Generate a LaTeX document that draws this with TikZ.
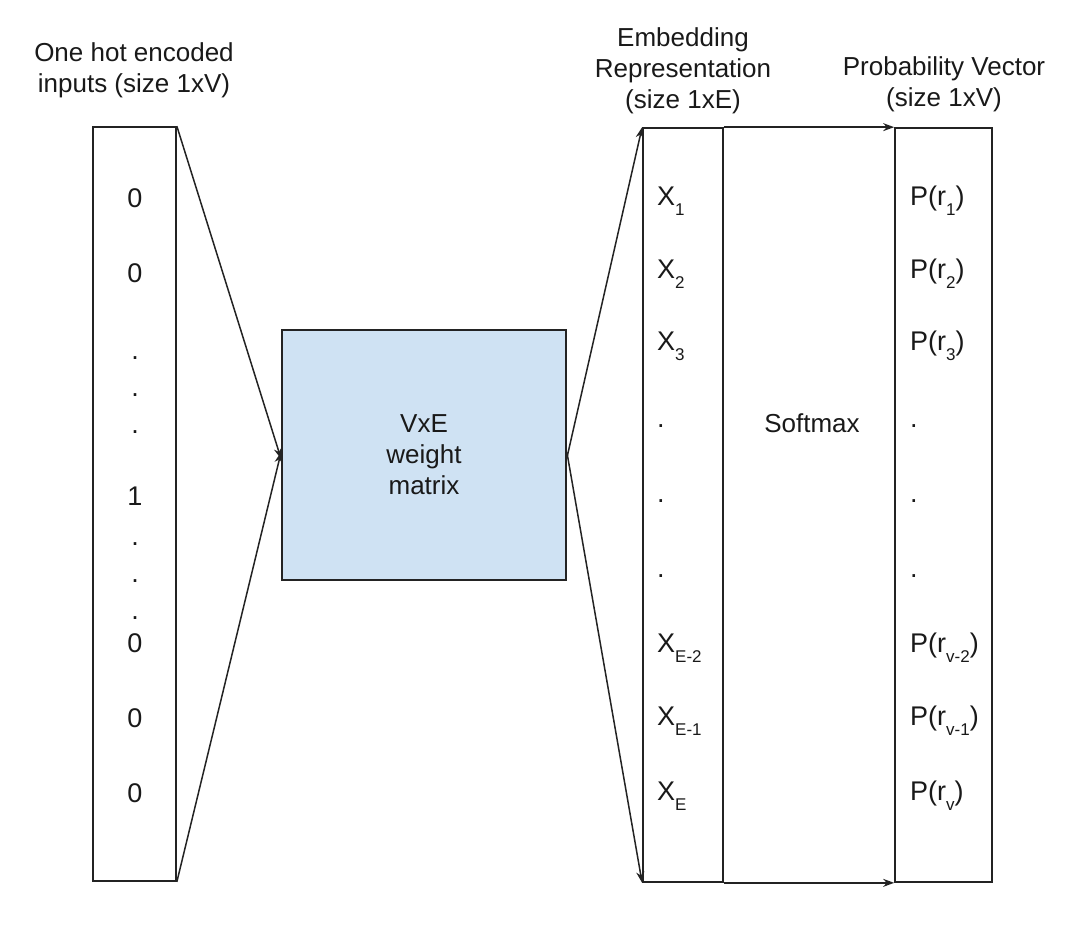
\documentclass[tikz,border=0pt]{standalone}
\usepackage{fontspec}
\setmainfont{Liberation Sans}
\usetikzlibrary{arrows.meta}

\definecolor{wmfill}{RGB}{207,226,243}
\definecolor{inkline}{RGB}{35,35,35}
\newcommand{\lblfont}{\fontsize{26}{31}\selectfont}
\newcommand{\entfont}{\fontsize{27}{31}\selectfont}
\newcommand{\lowidx}[1]{\raisebox{-10pt}{\fontsize{17}{17}\selectfont #1}}

\tikzset{
  colbox/.style={draw=inkline, line width=1.7pt, inner sep=0pt},
  lbl/.style={font=\lblfont, inner sep=0pt, align=center, text=black!90},
  entry/.style={font=\entfont, inner sep=0pt, text=black!90},
  conn/.style={draw=inkline, line width=1.5pt, -{Stealth[length=11pt,width=8pt]}}
}

\begin{document}
\begin{tikzpicture}[x=1pt,y=1pt,yscale=-1,xscale=1]
        \path[use as bounding box] (0,0) rectangle (1084,950);

        %Shape: Rectangle [one hot inputs]
        \node [colbox, minimum width=83, minimum height=754] (onehot) at (134.5,504) {};
        %Shape: Rectangle [weight matrix]
        \node [colbox, fill=wmfill, minimum width=284, minimum height=250, font=\lblfont, align=center, text=black!90] (weights) at (424,455) {VxE\\weight\\matrix};
        %Shape: Rectangle [embedding]
        \node [colbox, minimum width=80, minimum height=754] (embed) at (683,505) {};
        %Shape: Rectangle [probabilities]
        \node [colbox, minimum width=97, minimum height=754] (prob) at (943.5,505) {};

        %Straight Lines
        \draw [conn] (onehot.north east) -- ([yshift=4]weights.west);
        \draw [conn] (onehot.south east) -- ([yshift=-3]weights.west);
        \draw [conn] ([yshift=3]weights.east) -- (embed.north west);
        \draw [conn] ([yshift=-3]weights.east) -- (embed.south west);
        \draw [conn] (embed.north east) -- (prob.north west);
        \draw [conn] (embed.south east) -- (prob.south west);

        % Text Node
        \node [lbl, anchor=north] (inlbl) at (134,42) {One hot encoded\\inputs (size 1xV)};
        % Text Node
        \node [lbl, anchor=north] (emblbl) at (683,27) {Embedding\\Representation\\(size 1xE)};
        % Text Node
        \node [lbl, anchor=north] (problbl) at (944,56) {Probability Vector\\(size 1xV)};
        % Text Node
        \node [lbl] (softmax) at (812,423) {Softmax};

        % one hot values
        \foreach \txt/\yy [count=\i] in {0/207, 0/282, ./359, ./396, ./433, 1/505, ./545, ./582, ./619, 0/652, 0/727, 0/802}
            \node [entry, anchor=base] (in\i) at (135,\yy) {\txt};
        % embedding values
        \foreach \txt/\yy [count=\i] in {X\lowidx{1}/205, X\lowidx{2}/278, X\lowidx{3}/350, ./427, ./502, ./577, X\lowidx{E-2}/652, X\lowidx{E-1}/725, X\lowidx{E}/800}
            \node [entry, anchor=base west] (emb\i) at (657,\yy) {\txt};
        % probability values
        \foreach \txt/\yy [count=\i] in {P(r\lowidx{1})/205, P(r\lowidx{2})/278, P(r\lowidx{3})/350, ./427, ./502, ./577, P(r\lowidx{v-2})/652, P(r\lowidx{v-1})/725, P(r\lowidx{v})/800}
            \node [entry, anchor=base west] (pr\i) at (910,\yy) {\txt};

\end{tikzpicture}
\end{document}
